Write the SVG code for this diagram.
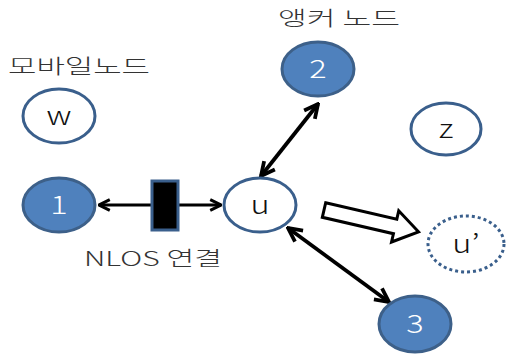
<svg xmlns="http://www.w3.org/2000/svg" width="506" height="356" viewBox="0 0 506 356">
<style>
.anchor{fill:#4f81bd;stroke:#3d6089;stroke-width:3}
.mobile{fill:#fff;stroke:#3a5f8c;stroke-width:3}
.ghost{fill:#fff;stroke:#3a5f8c;stroke-width:3;stroke-dasharray:3 3}
.lbl{font-family:"Noto Sans CJK KR","Liberation Sans",sans-serif;font-size:20px;font-weight:300;fill:#333}
.nt{font-family:"Noto Sans CJK KR","Liberation Sans",sans-serif;font-size:25px;font-weight:300;text-anchor:middle}
.wt{fill:#fff}
.bt{fill:#111}
.con{stroke:#000;stroke-width:3;fill:none;marker-start:url(#ah);marker-end:url(#ah)}
.dg{stroke-width:3.8}
</style>
<defs>
<marker id="ah" viewBox="0 0 10 10" refX="9" refY="5" markerWidth="4.5" markerHeight="5.5" orient="auto-start-reverse" markerUnits="strokeWidth">
<path d="M1,1 L9,5 L1,9" fill="none" stroke="#000" stroke-width="2.2" stroke-linejoin="miter"/>
</marker>
</defs>
<text class="lbl" x="8" y="74" textLength="142" lengthAdjust="spacingAndGlyphs">모바일노드</text>
<text class="lbl" x="278" y="26" textLength="122" lengthAdjust="spacingAndGlyphs">앵커 노드</text>
<text class="lbl" x="84" y="266" textLength="138" lengthAdjust="spacingAndGlyphs">NLOS 연결</text>
<g id="connectors">
<line class="con" x1="99" y1="205" x2="221" y2="205"/>
<line class="con dg" x1="318" y1="104" x2="261" y2="176"/>
<line class="con dg" x1="288" y1="228" x2="389" y2="302"/>
<rect x="152" y="181" width="26" height="49" fill="#000" stroke="#3a5f8c" stroke-width="3"/>
<path d="M0,-7.5 L73,-7.5 L73,-16 L97,0 L73,16 L73,7.5 L0,7.5 Z" transform="translate(324,210) rotate(13)" fill="#fff" stroke="#000" stroke-width="3" stroke-linejoin="miter"/>
</g>
<g id="node-w"><ellipse class="mobile" cx="59" cy="116" rx="36" ry="27"/><text class="nt bt" transform="translate(59,125) scale(1.3,1)">w</text></g>
<g id="node-2"><ellipse class="anchor" cx="318" cy="69" rx="36" ry="27"/><text class="nt wt" transform="translate(318,78) scale(1.3,1)">2</text></g>
<g id="node-z"><ellipse class="mobile" cx="446" cy="129" rx="35" ry="26"/><text class="nt bt" transform="translate(446,138) scale(1.3,1)">z</text></g>
<g id="node-1"><ellipse class="anchor" cx="59" cy="205" rx="36" ry="27"/><text class="nt wt" transform="translate(59,214) scale(1.3,1)">1</text></g>
<g id="node-u"><ellipse class="mobile" cx="260" cy="205" rx="36" ry="27"/><text class="nt bt" transform="translate(260,214) scale(1.3,1)">u</text></g>
<g id="node-u2"><ellipse class="ghost" cx="466" cy="244" rx="38" ry="28"/><text class="nt bt" transform="translate(466,253) scale(1.3,1)">u’</text></g>
<g id="node-3"><ellipse class="anchor" cx="415" cy="324" rx="36" ry="28"/><text class="nt wt" transform="translate(415,333) scale(1.3,1)">3</text></g>
</svg>
